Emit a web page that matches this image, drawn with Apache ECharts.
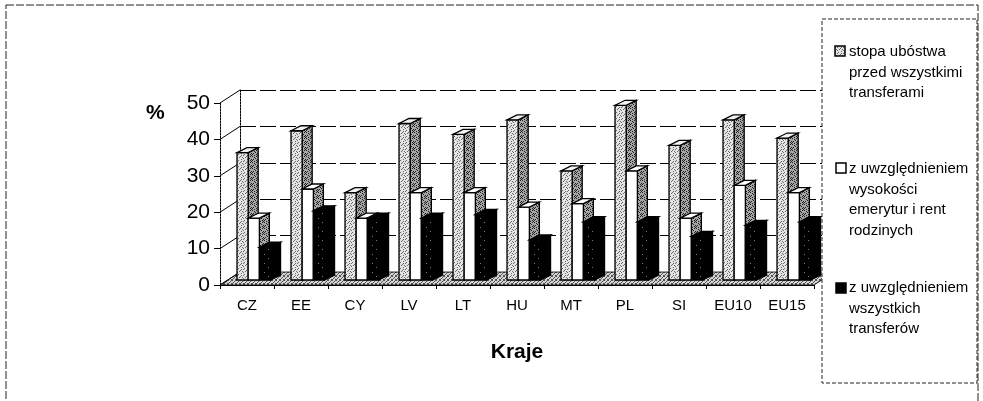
<!DOCTYPE html>
<html><head><meta charset="utf-8">
<script src="https://cdn.jsdelivr.net/npm/echarts@6/dist/echarts.min.js"></script>
<style>html,body{margin:0;padding:0;background:#fff}#c{width:983px;height:401px}</style>
</head><body><div id="c"></div>
<script>
// ---- data ----
const categories = ['CZ','EE','CY','LV','LT','HU','MT','PL','SI','EU10','EU15'];
const beforeTransfers = [35, 41, 24, 43, 40, 44, 30, 48, 37, 44, 39];
const withPensions    = [17, 25, 17, 24, 24, 20, 21, 30, 17, 26, 24];
const withAllTransfers= [9, 19, 17, 17, 18, 11, 16, 16, 12, 15, 16];
const seriesNames = [
  'stopa ubóstwa\nprzed wszystkimi\ntransferami',
  'z uwzględnieniem\nwysokości\nemerytur i rent\nrodzinych',
  'z uwzględnieniem\nwszystkich\ntransferów'
];
const yTickValues = [0, 10, 20, 30, 40, 50];
const xAxisName = 'Kraje';
const yAxisName = '%';

// ---- patterns ----
function makePattern(bg, dot, pts, size) {
  const c = document.createElement('canvas');
  c.width = size; c.height = size;
  const g = c.getContext('2d');
  g.fillStyle = bg; g.fillRect(0, 0, size, size);
  g.fillStyle = dot;
  pts.forEach(p => g.fillRect(p[0], p[1], 1, 1));
  return { image: c, repeat: 'repeat' };
}
const lightStipple = makePattern('#e4e4e4', '#6a6a6a', [[0,0],[2,1],[1,3],[3,2],[4,4],[5,1],[1,5],[3,5]], 6);
const darkStipple  = makePattern('#a6a6a6', '#202020', [[0,0],[2,1],[4,0],[1,3],[3,2],[5,3],[0,4],[4,4],[2,5],[5,5]], 6);
const floorStipple = makePattern('#d4d4d4', '#555', [[0,0],[2,1],[1,2],[3,3],[0,3],[3,0]], 4);
const blackSpeck   = makePattern('#000', '#000', [], 9);
(function(){ const g = blackSpeck.image.getContext('2d'); g.fillStyle='#777'; g.fillRect(3,2,1,1); g.fillRect(7,6,1,1); })();

const styles = [
  { front: lightStipple, side: darkStipple, top: '#f2f2f2' },
  { front: '#ffffff', side: darkStipple, top: '#ffffff' },
  { front: blackSpeck, side: '#000', top: '#000' }
];

const GRID = { left: 220, top: 103, width: 594, height: 182 };
const WALL_DX = 20, WALL_DY = -13;
const BAR_DX = 10, BAR_DY = -5, BAR_LIFT = 5;

function barRender(sIdx) {
  return function (params, api) {
    const i = api.value(0), v = api.value(1);
    const band = api.size([1, 0])[0];
    const c0 = api.coord([i, 0]);
    const c1 = api.coord([i, v]);
    const w = band * 0.207;
    const left = c0[0] - band / 2 + band * 0.315 + sIdx * w;
    const yb = c0[1] - BAR_LIFT, yt = c1[1] - BAR_LIFT;
    const st = styles[sIdx];
    const stroke = { stroke: '#000', lineWidth: 1.3 };
    return {
      type: 'group',
      children: [
        { type: 'polygon', shape: { points: [[left + w, yt], [left + w + BAR_DX, yt + BAR_DY], [left + w + BAR_DX, yb + BAR_DY], [left + w, yb]] },
          style: Object.assign({ fill: st.side }, stroke) },
        { type: 'rect', shape: { x: left, y: yt, width: w, height: yb - yt },
          style: Object.assign({ fill: st.front }, stroke) },
        { type: 'polygon', shape: { points: [[left, yt], [left + w, yt], [left + w + BAR_DX, yt + BAR_DY], [left + BAR_DX, yt + BAR_DY]] },
          style: Object.assign({ fill: st.top }, stroke) }
      ]
    };
  };
}

const chart = echarts.init(document.getElementById('c'), null, { renderer: 'canvas' });
const seriesData = [beforeTransfers, withPensions, withAllTransfers];

const option = {
  animation: false,
  backgroundColor: '#fff',
  textStyle: { fontFamily: 'Liberation Sans, Arial, sans-serif', color: '#000' },
  grid: [
    { left: GRID.left, top: GRID.top, width: GRID.width, height: GRID.height },
    { left: GRID.left + WALL_DX, top: GRID.top + WALL_DY, width: GRID.width, height: GRID.height }
  ],
  xAxis: [
    { type: 'category', gridIndex: 0, data: categories,
      axisLine: { lineStyle: { color: '#000', width: 1 } },
      axisTick: { show: true, length: 4, lineStyle: { color: '#000' } },
      axisLabel: { fontSize: 15, color: '#000', margin: 13, fontFamily: 'Liberation Sans, Arial' },
      name: xAxisName, nameLocation: 'middle', nameGap: 57,
      nameTextStyle: { fontSize: 21, fontWeight: 'bold', color: '#000', fontFamily: 'Liberation Sans, Arial' } },
    { type: 'category', gridIndex: 1, data: categories, show: false }
  ],
  yAxis: [
    { type: 'value', gridIndex: 0, min: 0, max: 50, interval: 10,
      axisLine: { show: true, lineStyle: { color: '#000', width: 1, type: [2, 1] } },
      axisTick: { show: true, length: 6, lineStyle: { color: '#000' } },
      axisLabel: { fontSize: 21, color: '#000', margin: 10, fontFamily: 'Liberation Sans, Arial' },
      splitLine: { show: false } },
    { type: 'value', gridIndex: 1, min: 0, max: 50, interval: 10,
      axisLine: { show: true, lineStyle: { color: '#000', width: 1, type: [2, 1] } },
      axisTick: { show: false }, axisLabel: { show: false },
      splitLine: { show: true, lineStyle: { color: '#000', width: 1.2, type: [16, 4] } } }
  ],
  series: [
    { type: 'custom', name: 'floor', xAxisIndex: 0, yAxisIndex: 0, z: 1, silent: true,
      data: [[0, 0]],
      renderItem: function (params, api) {
        const cs = params.coordSys;
        const y0 = api.coord([0, 0])[1];
        const x0 = cs.x, x1 = cs.x + cs.width;
        return { type: 'polygon', shape: { points: [[x0, y0], [x1, y0], [x1 + WALL_DX, y0 + WALL_DY], [x0 + WALL_DX, y0 + WALL_DY]] },
          style: { fill: floorStipple, stroke: '#000', lineWidth: 0.8 } };
      } },
    { type: 'custom', name: 'sidewall', xAxisIndex: 0, yAxisIndex: 0, z: 1, silent: true,
      data: yTickValues.map(v => [0, v]),
      renderItem: function (params, api) {
        const cs = params.coordSys;
        const y = api.coord([0, api.value(1)])[1];
        return { type: 'line', shape: { x1: cs.x, y1: y, x2: cs.x + WALL_DX, y2: y + WALL_DY },
          style: { stroke: '#000', lineWidth: 1 } };
      } }
  ].concat(seriesData.map((arr, s) => ({
    type: 'custom', name: seriesNames[s], xAxisIndex: 0, yAxisIndex: 0, z: 3 + s, clip: false,
    data: arr.map((v, i) => [i, v]),
    encode: { x: 0, y: 1 },
    renderItem: barRender(s)
  }))),
  graphic: [
    { type: 'rect', z: 0, shape: { x: 6, y: 5, width: 972, height: 420 },
      style: { fill: 'none', stroke: '#222', lineWidth: 1, lineDash: [8, 2] } },
    { type: 'text', z: 10, left: 146, top: 103,
      style: { text: yAxisName, font: 'bold 21px "Liberation Sans", Arial', fill: '#000' } },
    { type: 'rect', z: 50, shape: { x: 822, y: 19, width: 155, height: 364 },
      style: { fill: '#fff', stroke: '#222', lineWidth: 1, lineDash: [4, 2] } },
    { type: 'rect', z: 51, shape: { x: 835, y: 46, width: 10, height: 10 }, style: { fill: lightStipple, stroke: '#000', lineWidth: 1.5 } },
    { type: 'text', z: 51, x: 849, y: 42, style: { text: seriesNames[0], font: '15px "Liberation Sans", Arial', fill: '#000', lineHeight: 20.5 } },
    { type: 'rect', z: 51, shape: { x: 836, y: 163, width: 10, height: 10 }, style: { fill: '#fff', stroke: '#000', lineWidth: 1.5 } },
    { type: 'text', z: 51, x: 849, y: 159, style: { text: seriesNames[1], font: '15px "Liberation Sans", Arial', fill: '#000', lineHeight: 20.5 } },
    { type: 'rect', z: 51, shape: { x: 836, y: 283, width: 10, height: 10 }, style: { fill: '#000', stroke: '#000', lineWidth: 1.5 } },
    { type: 'text', z: 51, x: 849, y: 278, style: { text: seriesNames[2], font: '15px "Liberation Sans", Arial', fill: '#000', lineHeight: 20.5 } }
  ]
};
chart.setOption(option);
</script></body></html>
